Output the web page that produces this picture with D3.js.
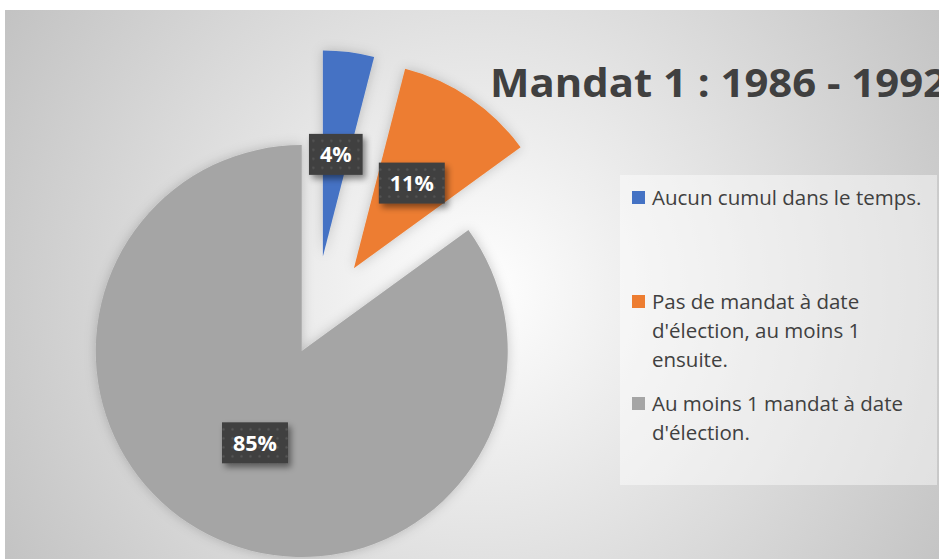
<!DOCTYPE html>
<html>
<head>
<meta charset="utf-8">
<script src="https://cdn.jsdelivr.net/npm/d3@7"></script>
<style>
  html, body { margin: 0; padding: 0; background: #ffffff; }
  svg { display: block; }
</style>
</head>
<body>
<svg id="chart" width="939" height="559"></svg>
<script>
// ---- Data ----
const title = "Mandat 1 : 1986 - 1992";
const categories = [
  "Aucun cumul dans le temps.",
  "Pas de mandat à date d'élection, au moins 1 ensuite.",
  "Au moins 1 mandat à date d'élection."
];
const legendLines = [
  ["Aucun cumul dans le temps."],
  ["Pas de mandat à date", "d'élection, au moins 1", "ensuite."],
  ["Au moins 1 mandat à date", "d'élection."]
];
const values = [4, 11, 85];
const valueLabels = ["4%", "11%", "85%"];

// ---- Styles / layout ----
const colors = ["#4472C4", "#ED7D31", "#A5A5A5"];
const explode = [71, 71, 27];
const W = 939, H = 559;
const cx = 314, cy = 327, R = 206;

const svg = d3.select("#chart");
const defs = svg.append("defs");

const bg = defs.append("radialGradient").attr("id", "bgGrad")
  .attr("gradientUnits", "userSpaceOnUse")
  .attr("cx", 480).attr("cy", 290).attr("r", 600);
bg.append("stop").attr("offset", "0%").attr("stop-color", "#ffffff");
bg.append("stop").attr("offset", "100%").attr("stop-color", "#bdbdbd");

const sliceShadow = defs.append("filter").attr("id", "sliceShadow")
  .attr("x", "-30%").attr("y", "-30%").attr("width", "160%").attr("height", "160%");
sliceShadow.append("feDropShadow").attr("dx", 0).attr("dy", 0)
  .attr("stdDeviation", 6).attr("flood-color", "#000").attr("flood-opacity", 0.2);

const lblShadow = defs.append("filter").attr("id", "lblShadow")
  .attr("x", "-30%").attr("y", "-30%").attr("width", "160%").attr("height", "160%");
lblShadow.append("feDropShadow").attr("dx", 3).attr("dy", 4)
  .attr("stdDeviation", 3).attr("flood-color", "#000").attr("flood-opacity", 0.45);

const pat = defs.append("pattern").attr("id", "dots")
  .attr("patternUnits", "userSpaceOnUse").attr("width", 9).attr("height", 9);
pat.append("rect").attr("width", 9).attr("height", 9).attr("fill", "#3f3f3f");
pat.append("circle").attr("cx", 4.5).attr("cy", 4.5).attr("r", 1.2).attr("fill", "#555555");

// background
svg.append("rect").attr("x", 0).attr("y", 0).attr("width", W).attr("height", H).attr("fill", "#ffffff");
svg.append("rect").attr("x", 5).attr("y", 10).attr("width", W - 5).attr("height", H - 10)
  .attr("fill", "url(#bgGrad)");

// pie
const pie = d3.pie().sort(null).value(d => d)(values);
const arc = d3.arc().innerRadius(0).outerRadius(R);
const offset = (d, i) => {
  const a = (d.startAngle + d.endAngle) / 2;
  return [explode[i] * Math.sin(a), -explode[i] * Math.cos(a)];
};

const g = svg.append("g").attr("transform", `translate(${cx},${cy})`);
g.selectAll("path.slice").data(pie).join("path")
  .attr("class", "slice")
  .attr("d", arc)
  .attr("fill", (d, i) => colors[i])
  .attr("filter", "url(#sliceShadow)")
  .attr("transform", (d, i) => { const o = offset(d, i); return `translate(${o[0]},${o[1]})`; });

// title
svg.append("text")
  .attr("x", 490).attr("y", 97)
  .attr("font-family", "'Open Sans', sans-serif")
  .attr("font-weight", "bold").attr("font-size", 40)
  .attr("fill", "#404040")
  .attr("textLength", 457).attr("lengthAdjust", "spacingAndGlyphs")
  .text(title);

// legend
const lg = svg.append("g");
lg.append("rect").attr("x", 620).attr("y", 175).attr("width", 317).attr("height", 310)
  .attr("fill", "#ffffff").attr("fill-opacity", 0.45);
const entryBaselines = [205, 309, 411];
const lineH = 29;
legendLines.forEach((lines, i) => {
  const y0 = entryBaselines[i];
  lg.append("rect").attr("x", 632).attr("y", y0 - 14).attr("width", 13).attr("height", 13)
    .attr("fill", colors[i]);
  const t = lg.append("text")
    .attr("font-family", "'Open Sans', sans-serif")
    .attr("font-size", 20.5).attr("fill", "#404040");
  lines.forEach((ln, j) => {
    t.append("tspan").attr("x", 652).attr("y", y0 + j * lineH).text(ln);
  });
});

// data labels
const lbls = svg.append("g").attr("transform", `translate(${cx},${cy})`);
pie.forEach((d, i) => {
  const o = offset(d, i);
  const c = arc.centroid(d);
  const x = c[0] + o[0], y = c[1] + o[1];
  const lgp = lbls.append("g").attr("transform", `translate(${x},${y})`);
  const txt = lgp.append("text")
    .attr("text-anchor", "middle").attr("dy", "0.36em")
    .attr("font-family", "'Open Sans', sans-serif")
    .attr("font-weight", "bold").attr("font-size", 21.5)
    .attr("fill", "#ffffff")
    .text(valueLabels[i]);
  const w = txt.node().getComputedTextLength() + 22;
  const h = 41;
  lgp.insert("rect", "text")
    .attr("x", -w / 2).attr("y", -h / 2).attr("width", w).attr("height", h)
    .attr("fill", "url(#dots)").attr("filter", "url(#lblShadow)");
});
</script>
</body>
</html>
